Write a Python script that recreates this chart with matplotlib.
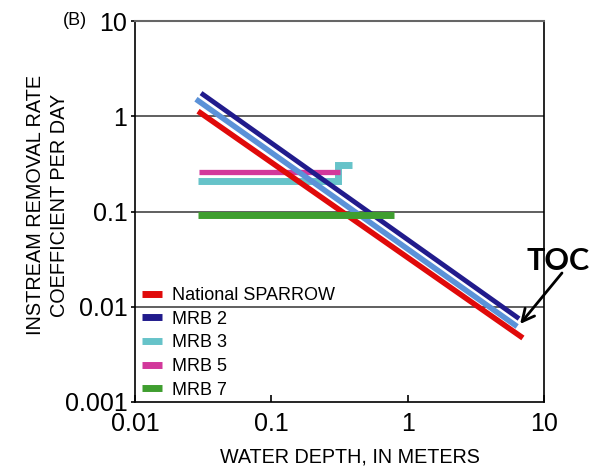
import matplotlib
matplotlib.use("Agg")
import matplotlib.pyplot as plt

plt.rcParams['font.family'] = ['Liberation Sans', 'DejaVu Sans']

# diagonal fits (depth in m, rate per day)
sparrow_depth = [0.029, 7.0]
sparrow_k = [1.13, 0.0047]
mrb2_depth = [0.0305, 6.56]
mrb2_k = [1.75, 0.0075]
mrb3_line_depth = [0.028, 6.35]
mrb3_line_k = [1.51, 0.0062]

# flat estimates
mrb3_depth = [0.029, 0.306, 0.306, 0.39]
mrb3_k = [0.207, 0.207, 0.31, 0.31]
mrb5_depth = [0.0295, 0.319]
mrb5_k = [0.257, 0.257]
mrb7_depth = [0.029, 0.79]
mrb7_k = [0.093, 0.093]

labels = ['National SPARROW', 'MRB 2', 'MRB 3', 'MRB 5', 'MRB 7']
colors = ['#e00a0a', '#211b8c', '#66c3c9', '#d2389b', '#3f9e2f']
blue = '#5b92d8'

fig = plt.figure(figsize=(5.95, 4.71), dpi=100)
ax = fig.add_axes([0.2269, 0.1465, 0.6874, 0.8089])
ax.set_xscale('log')
ax.set_yscale('log')
ax.set_xlim(0.01, 10)
ax.set_ylim(0.001, 10)

for yv in [1, 0.1, 0.01]:
    ax.axhline(yv, color='#444444', lw=1.2, zorder=1)

kw = dict(solid_capstyle='butt', solid_joinstyle='miter')
ax.plot(mrb3_depth, mrb3_k, color=colors[2], lw=5, zorder=2, **kw)
ax.plot(mrb5_depth, mrb5_k, color=colors[3], lw=3.8, zorder=2, **kw)
ax.plot(sparrow_depth, sparrow_k, color=colors[0], lw=4, zorder=3, **kw)
ax.plot(mrb2_depth, mrb2_k, color=colors[1], lw=3.5, zorder=3, **kw)
ax.plot(mrb3_line_depth, mrb3_line_k, color=blue, lw=4, zorder=4, **kw)
ax.plot(mrb7_depth, mrb7_k, color=colors[4], lw=5, zorder=5, **kw)

# legend
handles = [plt.Line2D([], [], color=c, lw=5, solid_capstyle='butt') for c in colors]
leg = ax.legend(handles, labels, loc='lower left', bbox_to_anchor=(-0.01, -0.02),
                frameon=False, fontsize=13, handlelength=1.1, handletextpad=0.55,
                labelspacing=0.37, borderaxespad=0.2)

ax.set_yticks([0.001, 0.01, 0.1, 1, 10])
ax.set_yticklabels(['0.001', '0.01', '0.1', '1', '10'])
ax.set_xticks([0.01, 0.1, 1, 10])
ax.set_xticklabels(['0.01', '0.1', '1', '10'])
ax.minorticks_off()
ax.tick_params(axis='y', direction='out', length=3, width=1.2, labelsize=18, pad=2.5)
ax.tick_params(axis='x', direction='in', length=5, width=1.2, labelsize=18, pad=7)

for s in ['left', 'bottom', 'right']:
    ax.spines[s].set_color('black')
    ax.spines[s].set_linewidth(1.2)
ax.spines['top'].set_color('#666666')
ax.spines['top'].set_linewidth(1.5)

ax.set_xlabel('WATER DEPTH, IN METERS', fontsize=14.2, va='top')
ax.xaxis.set_label_coords(0.5257, -0.1207)
ax.set_ylabel('INSTREAM REMOVAL RATE\nCOEFFICIENT PER DAY', fontsize=14.3,
              linespacing=1.3)
ax.yaxis.set_label_coords(-0.1615, 0.517)

fig.text(0.105, 0.957, '(B)', fontsize=13, ha='left', va='center')

fig.text(0.938, 0.4268, 'TOC', fontsize=22, fontweight='bold',
         family=['Lato', 'DejaVu Sans'], ha='center', va='baseline')
ax.annotate('', xy=(6.68, 0.0066), xytext=(0.9445, 0.4204), textcoords='figure fraction',
            annotation_clip=False,
            arrowprops=dict(arrowstyle='->', color='black', lw=2, mutation_scale=22,
                            shrinkA=0, shrinkB=0))

fig.savefig('out.png', dpi=100)
